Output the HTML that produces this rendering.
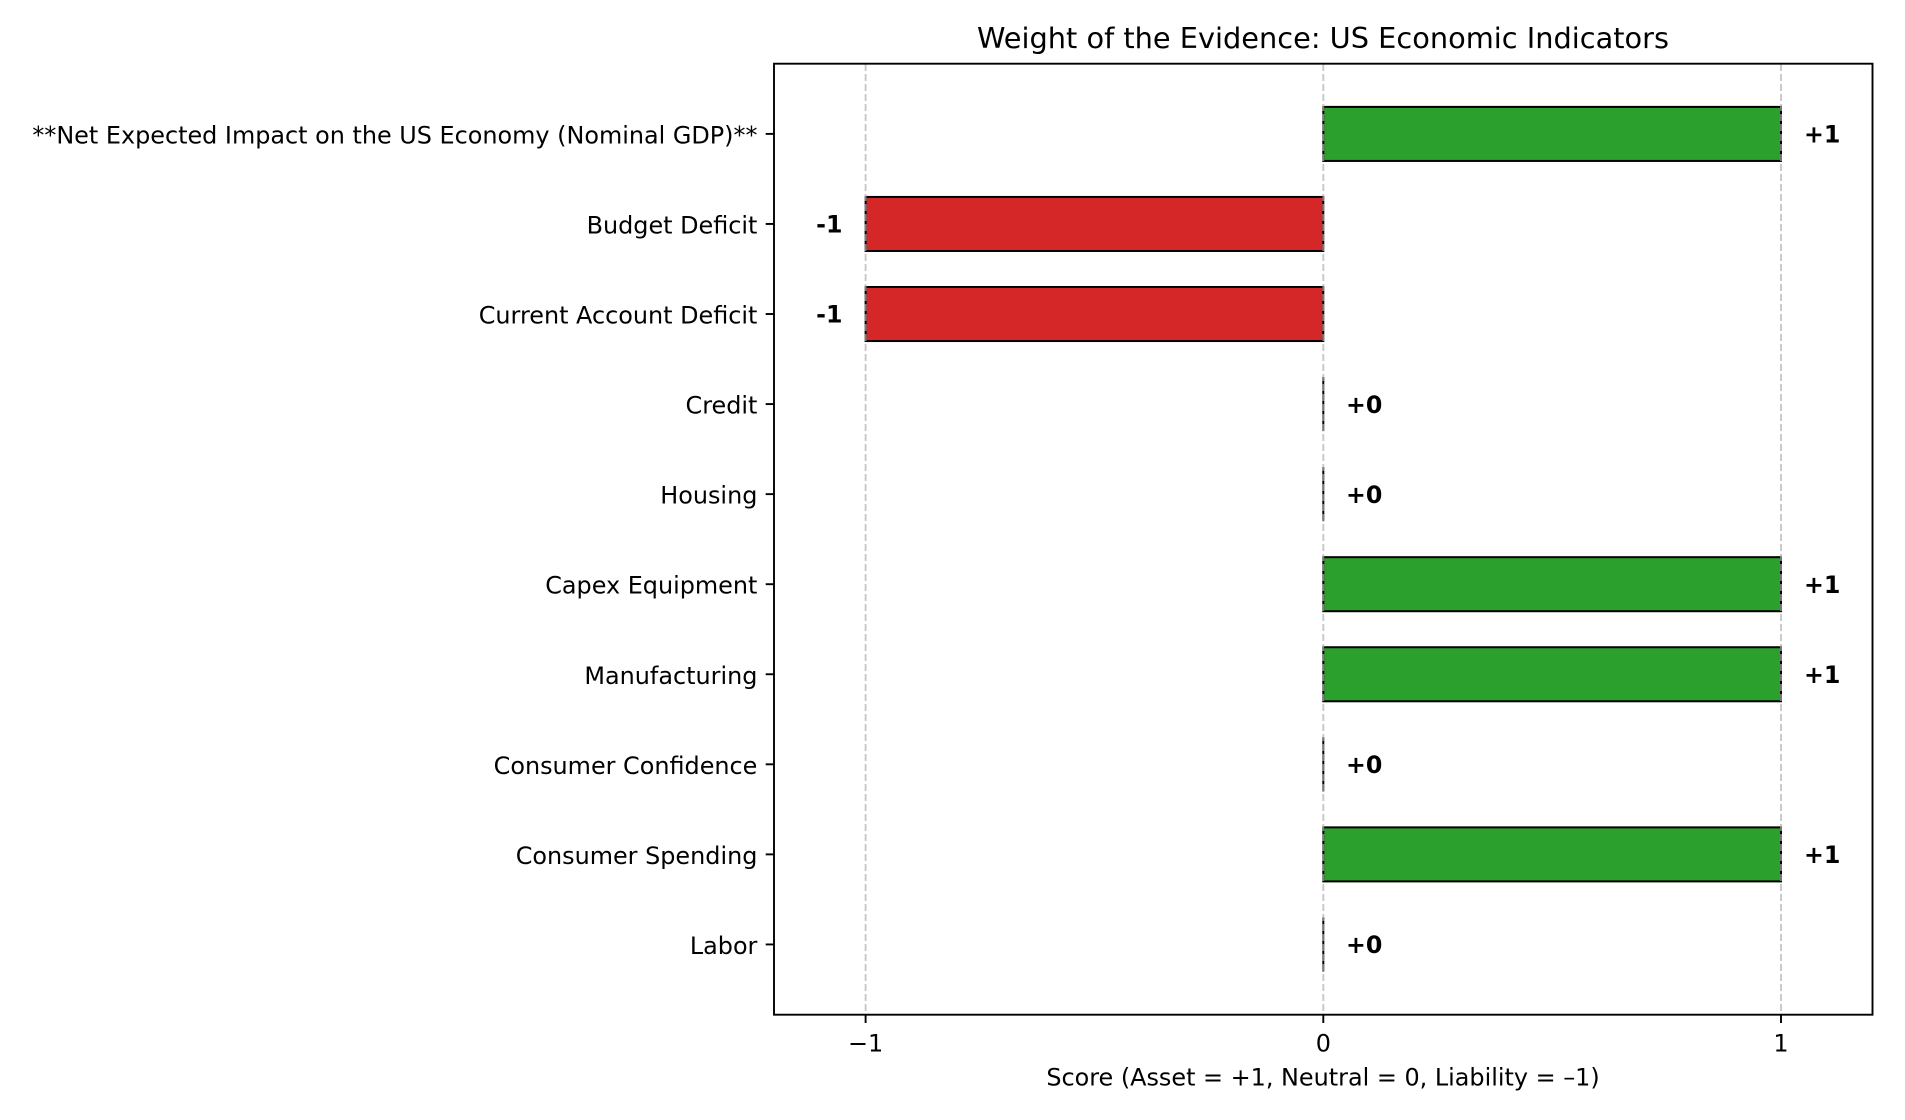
<!DOCTYPE html>
<html><head><meta charset="utf-8"><style>
html,body{margin:0;padding:0;background:#fff;}
svg{display:block;}
text{font-family:"DejaVu Sans","Liberation Sans",sans-serif;fill:#000;}
.yl{font-size:23.9px;text-anchor:end;}
.xl{font-size:23.9px;text-anchor:middle;}
.v{font-size:23.7px;font-weight:bold;}
</style></head><body>
<svg width="1905" height="1120" viewBox="0 0 1905 1120" xmlns="http://www.w3.org/2000/svg">
<rect width="1905" height="1120" fill="#fff"/>
<text x="1323" y="48" style="font-size:28.8px;text-anchor:middle">Weight of the Evidence: US Economic Indicators</text>

<!-- bars -->
<g stroke="#000" stroke-width="2">
<rect x="1323.3" y="106.9" width="457.7" height="54.04" fill="#2ca02c"/>
<rect x="865.6" y="196.94" width="457.7" height="54.04" fill="#d62728"/>
<rect x="865.6" y="287.0" width="457.7" height="54.04" fill="#d62728"/>
<line x1="1323.3" y1="377.06" x2="1323.3" y2="431.1"/>
<line x1="1323.3" y1="467.12" x2="1323.3" y2="521.16"/>
<rect x="1323.3" y="557.18" width="457.7" height="54.04" fill="#2ca02c"/>
<rect x="1323.3" y="647.24" width="457.7" height="54.04" fill="#2ca02c"/>
<line x1="1323.3" y1="737.3" x2="1323.3" y2="791.34"/>
<rect x="1323.3" y="827.36" width="457.7" height="54.04" fill="#2ca02c"/>
<line x1="1323.3" y1="917.42" x2="1323.3" y2="971.46"/>
</g>

<!-- grid -->
<g stroke="#b0b0b0" stroke-opacity="0.7" stroke-width="1.9" stroke-dasharray="7,3">
<line x1="865.6" y1="64" x2="865.6" y2="1014"/>
<line x1="1323.3" y1="64" x2="1323.3" y2="1014"/>
<line x1="1781.0" y1="64" x2="1781.0" y2="1014"/>
</g>

<!-- spine -->
<rect x="774" y="63.7" width="1098.5" height="951" fill="none" stroke="#000" stroke-width="1.9"/>

<!-- ticks -->
<g stroke="#000" stroke-width="1.9">
<line x1="765.7" y1="133.9" x2="774" y2="133.9"/>
<line x1="765.7" y1="223.96" x2="774" y2="223.96"/>
<line x1="765.7" y1="314.02" x2="774" y2="314.02"/>
<line x1="765.7" y1="404.08" x2="774" y2="404.08"/>
<line x1="765.7" y1="494.14" x2="774" y2="494.14"/>
<line x1="765.7" y1="584.2" x2="774" y2="584.2"/>
<line x1="765.7" y1="674.26" x2="774" y2="674.26"/>
<line x1="765.7" y1="764.32" x2="774" y2="764.32"/>
<line x1="765.7" y1="854.38" x2="774" y2="854.38"/>
<line x1="765.7" y1="944.44" x2="774" y2="944.44"/>
<line x1="865.6" y1="1014.7" x2="865.6" y2="1023"/>
<line x1="1323.3" y1="1014.7" x2="1323.3" y2="1023"/>
<line x1="1781.0" y1="1014.7" x2="1781.0" y2="1023"/>
</g>

<!-- y labels -->
<text class="yl" x="757.4" y="143.4">**Net Expected Impact on the US Economy (Nominal GDP)**</text>
<text class="yl" x="757.4" y="233.5">Budget Deficit</text>
<text class="yl" x="757.4" y="323.5">Current Account Deficit</text>
<text class="yl" x="757.4" y="413.6">Credit</text>
<text class="yl" x="757.4" y="503.6">Housing</text>
<text class="yl" x="757.4" y="593.7">Capex Equipment</text>
<text class="yl" x="757.4" y="683.8">Manufacturing</text>
<text class="yl" x="757.4" y="773.8">Consumer Confidence</text>
<text class="yl" x="757.4" y="863.9">Consumer Spending</text>
<text class="yl" x="757.4" y="953.9">Labor</text>

<!-- x labels -->
<text class="xl" x="865.6" y="1051.7">−1</text>
<text class="xl" x="1323.3" y="1051.7">0</text>
<text class="xl" x="1781.0" y="1051.7">1</text>
<text class="xl" x="1323" y="1085.7">Score (Asset = +1, Neutral = 0, Liability = –1)</text>

<!-- value labels -->
<text class="v" x="1804" y="142.6">+1</text>
<text class="v" x="842.5" y="232.7" text-anchor="end">-1</text>
<text class="v" x="842.5" y="322.7" text-anchor="end">-1</text>
<text class="v" x="1346" y="412.8">+0</text>
<text class="v" x="1346" y="502.8">+0</text>
<text class="v" x="1804" y="592.9">+1</text>
<text class="v" x="1804" y="683.0">+1</text>
<text class="v" x="1346" y="773.0">+0</text>
<text class="v" x="1804" y="863.1">+1</text>
<text class="v" x="1346" y="953.1">+0</text>
</svg>
</body></html>
